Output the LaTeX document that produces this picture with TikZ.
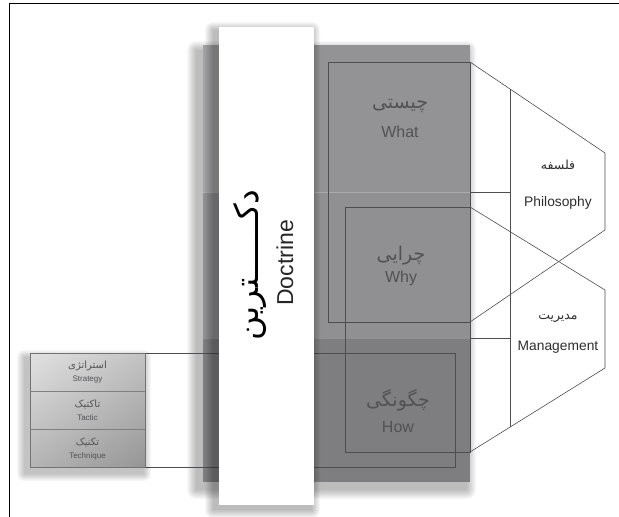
\documentclass[tikz,border=0pt]{standalone}
\usepackage{fontspec}
\setmainfont{Liberation Sans}
\newfontfamily\fa[Script=Arabic]{DejaVu Sans}
\TeXXeTstate=1
\usetikzlibrary{calc}
\definecolor{rowA}{HTML}{939396}
\definecolor{rowB}{HTML}{909093}
\definecolor{rowC}{HTML}{7E7E81}
\definecolor{stripA}{HTML}{A3A3A6}
\definecolor{linegray}{HTML}{4E4E50}
\definecolor{txtgray}{HTML}{525255}
\definecolor{hextxt}{HTML}{2E2E2E}
\begin{document}
\begin{tikzpicture}[x=1pt,y=-1pt,
  thinline/.style={draw=linegray, line width=0.6pt},
  bigfa/.style={text=txtgray, inner sep=0, font=\fa\fontsize{19}{21}\selectfont},
  bigen/.style={text=txtgray, inner sep=0, font=\fontsize{16}{18}\selectfont},
  hexfa/.style={text=hextxt, inner sep=0, font=\fa\fontsize{12.5}{14}\selectfont},
  hexen/.style={text=hextxt, inner sep=0, font=\fontsize{13.8}{16}\selectfont},
  smallfa/.style={text=txtgray, inner sep=0, font=\fa\fontsize{10}{11}\selectfont},
  smallen/.style={text=txtgray, inner sep=0, font=\fontsize{8}{9}\selectfont}]
\useasboundingbox (0,0) rectangle (619,517);
\fill[white] (0,0) rectangle (619,517);
% frame (top and left only)
\draw[line width=1pt] (9,517) -- (9,3.5) -- (619,3.5);

% ---- shadow of the gray block
\foreach \r in {0,1,...,9}
  \fill[black,opacity=0.028,rounded corners=\r pt] (203-7-\r,45+5-\r) rectangle (470-3+\r,482+8+\r);
% ---- gray block
\fill[rowA] (203,45) rectangle (470,192);
\fill[rowB] (203,192) rectangle (470,338);
\fill[rowC] (203,338) rectangle (470,482);
\fill[stripA] (203,45) rectangle (219,192);
\draw[white,opacity=0.25,line width=0.8pt] (203,192) -- (470,192);
\draw[white,opacity=0.15,line width=0.8pt] (203,338) -- (470,338);

% ---- frames on the gray block
\coordinate (wTL) at (328,62);  \coordinate (wBR) at (470,322);
\coordinate (wTR) at (470,62);
\coordinate (yTL) at (345,207); \coordinate (yBR) at (470,452);
\coordinate (yTR) at (470,207);
\coordinate (hTL) at (145,353); \coordinate (hTR) at (455,353);
\coordinate (hBR) at (455,467); \coordinate (hBL) at (145,467);
\draw[thinline] (wTL) rectangle (wBR);
\draw[thinline] (yTL) rectangle (yBR);
\draw[thinline] (hTL) -- (hTR) -- (hBR) -- (hBL);

% ---- white Doctrine strip
\foreach \r in {0,1,...,8}
  \fill[black,opacity=0.03,rounded corners=\r pt] (219-6-\r,27+3-\r) rectangle (314-2+\r,505+5+\r);
\fill[white] (219,27) rectangle (314,505);
\node[rotate=90, inner sep=0, text=black, font=\fa\fontsize{33}{36}\selectfont] (docfa) at (250,265) {\beginR دکــــــترین\endR};
\node[rotate=90, inner sep=0, text=black!85, font=\fontsize{23}{26}\selectfont] (docen) at (285,263) {Doctrine};

% ---- box labels
\node[bigfa] (whatfa) at (400,106) {\beginR چیستی\endR};
\node[bigen] (whaten) at (400,132) {What};
\node[bigfa] (whyfa) at (401,256) {\beginR چرایی\endR};
\node[bigen] (whyen) at (401,278) {Why};
\node[bigfa] (howfa) at (398,400) {\beginR چگونگی\endR};
\node[bigen] (howen) at (398,427) {How};

% ---- hexagons formed by projection lines
\coordinate (p1) at (605,153); \coordinate (p2) at (605,230);
\coordinate (m1) at (605,290); \coordinate (m2) at (605,368);
\coordinate (vt) at ($(wTR)!0.2963!(p1)$);
\coordinate (vb) at ($(yBR)!0.2963!(m2)$);
\coordinate (r1) at (470,192); \coordinate (r2) at (470,338);
\draw[thinline] (wTR) -- (p1) -- (p2) -- (wBR);
\draw[thinline] (yTR) -- (m1) -- (m2) -- (yBR);
\draw[thinline] (vt) -- (vb);
\draw[thinline] (r1) -- (r1 -| vt);
\draw[thinline] (r2) -- (r2 -| vt);
\node[hexfa] (philfa) at (558,165) {\beginR فلسفه\endR};
\node[hexen] (philen) at (558,203) {Philosophy};
\node[hexfa] (manfa) at (558,318) {\beginR مدیریت\endR};
\node[hexen] (manen) at (558,347) {Management};

% ---- left stacked box
\foreach \r in {0,1,...,7}
  \fill[black,opacity=0.03,rounded corners=\r pt] (30-6-\r,353+4-\r) rectangle (145-1+\r,467+7+\r);
\shade[top color=black!13, bottom color=black!33] (30,353) rectangle (145,467);
\shade[left color=white, right color=black, opacity=0.12] (30,353) rectangle (145,467);
\draw[draw=black!55, line width=0.6pt] (30,353) rectangle (145,467);
\draw[draw=black!50, line width=0.6pt] (30,391) -- (145,391);
\draw[draw=black!50, line width=0.6pt] (30,429) -- (145,429);
\node[smallfa] (strfa) at (87.5,366) {\beginR استراتژی\endR};
\node[smallen] (stren) at (87.5,380) {Strategy};
\node[smallfa] (tacfa) at (87.5,404) {\beginR تاکتیک\endR};
\node[smallen] (tacen) at (87.5,418) {Tactic};
\node[smallfa] (tecfa) at (87.5,442) {\beginR تکنیک\endR};
\node[smallen] (tecen) at (87.5,456) {Technique};
\end{tikzpicture}
\end{document}
